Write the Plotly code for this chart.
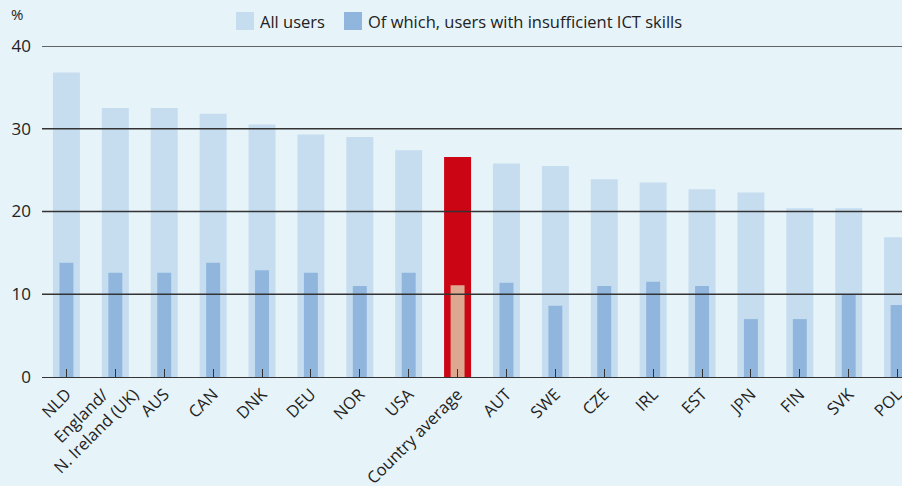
import plotly.graph_objects as go

categories = ["NLD", "England/<br>N. Ireland (UK)", "AUS", "CAN", "DNK", "DEU", "NOR", "USA",
              "Country average", "AUT", "SWE", "CZE", "IRL", "EST", "JPN", "FIN", "SVK", "POL"]
all_users = [36.8, 32.5, 32.5, 31.8, 30.5, 29.3, 29.0, 27.4, 26.6, 25.8, 25.5, 23.9, 23.5, 22.7, 22.3, 20.4, 20.4, 16.9]
insufficient = [13.8, 12.6, 12.6, 13.8, 12.9, 12.6, 11.0, 12.6, 11.1, 11.4, 8.6, 11.0, 11.5, 11.0, 7.0, 7.0, 9.9, 8.7]
y_ticks = [0, 10, 20, 30, 40]
series_names = ["All users", "Of which, users with insufficient ICT skills"]

LIGHT = "#c6ddf0"
DARK = "#91b6de"
RED = "#cc0514"
SALMON = "#dea78f"
BG = "#e6f3f9"
TXT = "#222222"
FONT = "Open Sans"

W, H = 902, 486
ML, MR, MT, MB = 42, 0, 46, 109
PW, PH = W - ML - MR, H - MT - MB

avg_idx = categories.index("Country average")
light_colors = [RED if i == avg_idx else LIGHT for i in range(len(categories))]
dark_colors = [SALMON if i == avg_idx else DARK for i in range(len(categories))]
xs = list(range(len(categories)))
multi = [i for i, c in enumerate(categories) if "<br>" in c]
tick_labels = ["" if i in multi else c for i, c in enumerate(categories)]

fig = go.Figure()
fig.add_trace(go.Bar(x=xs, y=all_users, name=series_names[0], width=0.552, showlegend=False,
                     marker=dict(color=light_colors, line=dict(width=0))))
fig.add_trace(go.Bar(x=xs, y=insufficient, name=series_names[1], width=0.286, showlegend=False,
                     marker=dict(color=dark_colors, line=dict(width=0))))

# gridlines drawn above the bars
for v in y_ticks[1:]:
    fig.add_shape(type="line", xref="paper", yref="y", x0=0, x1=1, y0=v, y1=v,
                  line=dict(color="#333333", width=1.4), layer="above")

def px_x(p):
    return (p - ML) / PW

def px_y(p):
    return (H - MB - p) / PH

annotations = []
# hand-built legend (18px square swatches)
legend_items = [(series_names[0], LIGHT, 236), (series_names[1], DARK, 344)]
for name, col, x0 in legend_items:
    fig.add_shape(type="rect", xref="paper", yref="paper", x0=px_x(x0), x1=px_x(x0 + 18),
                  y0=px_y(30), y1=px_y(12), fillcolor=col, line=dict(width=0), layer="above")
    annotations.append(dict(text=name, xref="paper", yref="paper", x=px_x(x0 + 22), y=px_y(21),
                            xanchor="left", yanchor="middle", showarrow=False,
                            font=dict(size=16.5, color=TXT)))

# multi-line category label as a rotated block
for i in multi:
    annotations.append(dict(text=categories[i], x=xs[i], xref="x", y=0, yref="y",
                            textangle=-45, xanchor="right", yanchor="top", align="center",
                            xshift=30, yshift=12, showarrow=False, font=dict(size=16.5, color=TXT)))

annotations.append(dict(text="%", xref="paper", yref="paper", x=px_x(17), y=px_y(14),
                        xanchor="center", yanchor="middle", showarrow=False,
                        font=dict(size=15, color=TXT)))

fig.update_layout(
    width=W, height=H,
    paper_bgcolor=BG, plot_bgcolor=BG,
    margin=dict(l=ML, r=MR, t=MT, b=MB),
    barmode="overlay",
    font=dict(family=FONT, size=16, color=TXT),
    showlegend=False,
    xaxis=dict(range=[-0.5, 17.09], tickmode="array", tickvals=xs, ticktext=tick_labels,
               tickangle=-45, ticks="inside", tickson="boundaries", ticklen=8, tickcolor="#333333",
               tickwidth=1.4, showgrid=False, showline=True, linecolor="#333333", linewidth=1.4,
               tickfont=dict(size=16.5, color=TXT), zeroline=False, automargin=False,
               ticklabeloverflow="allow"),
    yaxis=dict(range=[0, 40], tickvals=y_ticks, showgrid=False, zeroline=False, showline=False,
               ticks="", ticklabelstandoff=10, tickfont=dict(size=17, color=TXT), automargin=False),
    annotations=annotations,
)

fig.write_html("out.html", config={"displayModeBar": False},
               post_script="document.body.style.margin='0px';document.body.style.overflow='hidden';")
